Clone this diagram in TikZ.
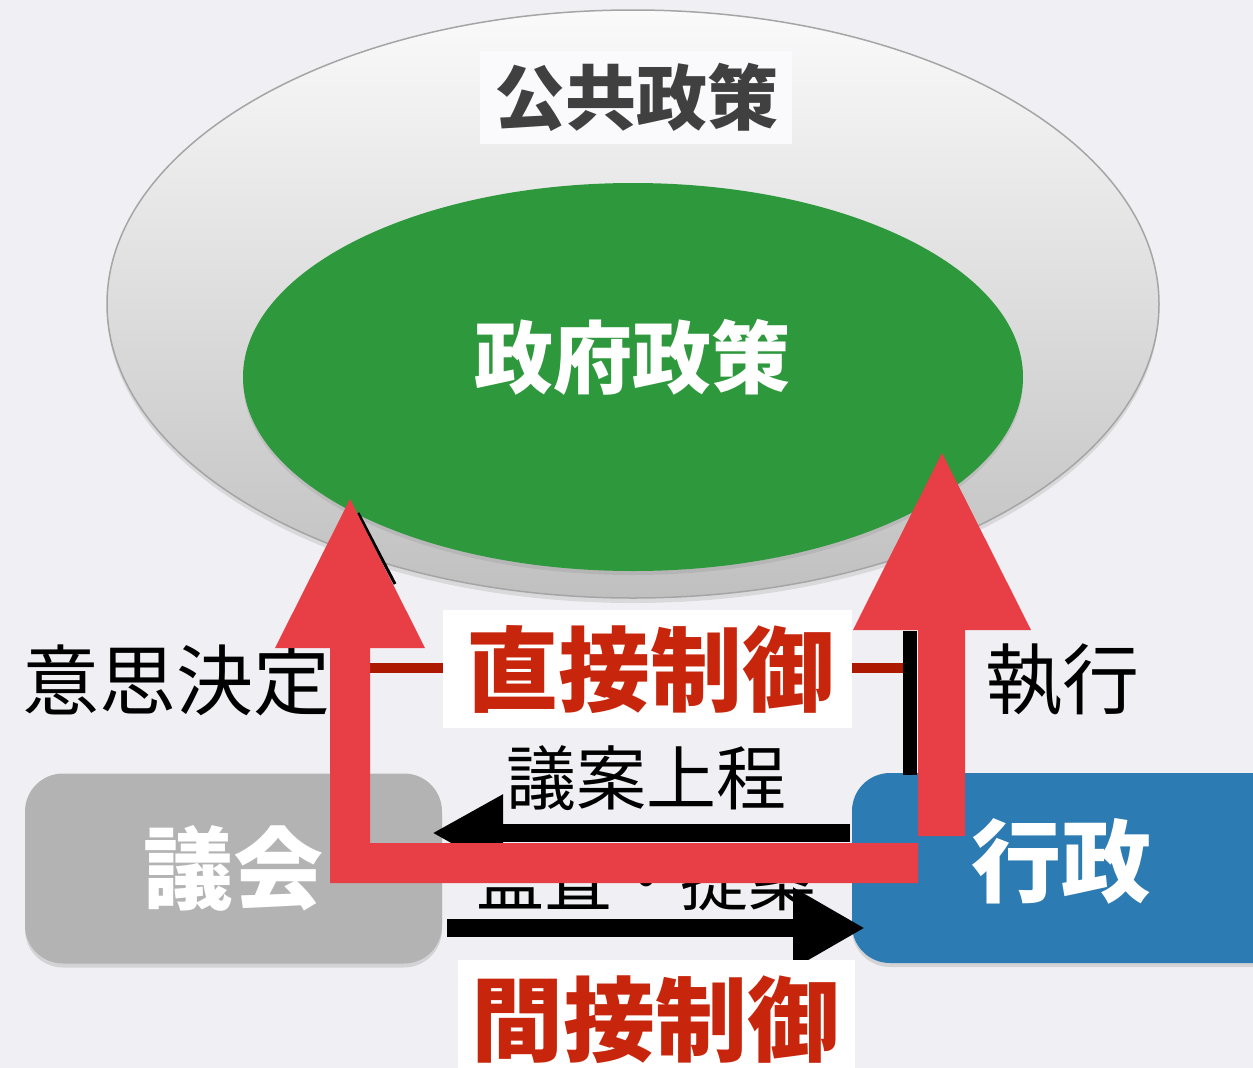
\documentclass[tikz,border=0pt]{standalone}
\usepackage{fontspec}
\newfontfamily\cjk{Noto Sans CJK JP}
\usetikzlibrary{shapes.geometric,arrows.meta,shadows}
\definecolor{bg}{RGB}{240,240,244}
\definecolor{ringtop}{RGB}{250,250,250}
\definecolor{ringbot}{RGB}{192,192,192}
\definecolor{ringline}{RGB}{165,165,165}
\definecolor{govgreen}{RGB}{46,152,60}
\definecolor{boxgray}{RGB}{179,179,179}
\definecolor{boxblue}{RGB}{44,123,178}
\definecolor{arrowred}{RGB}{232,62,69}
\definecolor{darkred}{RGB}{172,24,0}
\definecolor{textred}{RGB}{200,38,12}
\definecolor{titlegray}{RGB}{64,64,64}
\begin{document}
\begin{tikzpicture}[x=1pt,y=-1pt,
  plain/.style={inner sep=0pt, font={\cjk\fontsize{77pt}{80pt}\selectfont}, text=black},
  boldw/.style={inner sep=0pt, font={\cjk\bfseries\fontsize{#1}{#1}\selectfont}, text=white},
  redtitle/.style={inner sep=0pt, font={\cjk\bfseries\fontsize{92pt}{95pt}\selectfont}, text=textred},
  whitebox/.style={fill=white, draw=none, inner sep=0pt},
  actor/.style={rounded corners=38pt, inner sep=0pt, minimum height=190pt,
    drop shadow={opacity=0.25, shadow xshift=0pt, shadow yshift=-4pt}},
  blackarrow/.style={line width=18pt, draw=black},
  redshape/.style={fill=arrowred}]
\useasboundingbox (0,0) rectangle (1253,1068);
\clip (0,0) rectangle (1253,1068);
\fill[bg] (0,0) rectangle (1253,1068);

% ellipses
\node[ellipse, minimum width=1052pt, minimum height=588pt, inner sep=0pt,
  top color=ringtop, bottom color=ringbot, draw=ringline, line width=1.5pt,
  drop shadow={opacity=0.2, shadow xshift=0pt, shadow yshift=-5pt}] (public) at (633,304) {};
\node[ellipse, minimum width=780pt, minimum height=388pt, inner sep=0pt,
  fill=govgreen, drop shadow={opacity=0.2, shadow xshift=0pt, shadow yshift=-4pt}] (gov) at (633,377) {};
\node[boldw=79pt] (govtxt) at (632,357) {政府政策};
\node[fill=white!70!bg, minimum width=312pt, minimum height=93pt, inner sep=0pt] (pubbox) at (636,97) {};
\node[inner sep=0pt, font={\cjk\bfseries\fontsize{71pt}{75pt}\selectfont}, text=titlegray] (pubtxt) at (636,97) {公共政策};

% thin black remnant line
\coordinate (d1) at (358,513);
\coordinate (d2) at (395,584);
\draw[line width=3pt] (d1) -- (d2);

% side labels
\node[plain] (ishi) at (177,680) {意思決定};
\node[plain] (shikko) at (1062,680) {執行};

% actors
\node[actor, fill=boxgray, minimum width=417pt] (gikai) at (233.5,868.5) {};
\node[boldw=90pt] at (gikai.center) {議会};
\node[actor, fill=boxblue, minimum width=448pt] (gyosei) at (1076,868) {};
\node[boldw=90pt] at (1061,861) {行政};

% black vertical line and dark red segments
\coordinate (v1) at (910,631);
\coordinate (v2) at (910,775);
\draw[line width=14pt] (v1) -- (v2);
\coordinate (r1) at (350,668);
\coordinate (r2) at (443,668);
\coordinate (r3) at (852,668);
\coordinate (r4) at (903,668);
\draw[darkred, line width=10pt] (r1) -- (r2);
\draw[darkred, line width=10pt] (r3) -- (r4);

% direct control box
\node[whitebox, minimum width=409pt, minimum height=118pt] (dbox) at (647.5,669) {};
\node[redtitle] (dtxt) at (650,670) {直接制御};

% middle labels and arrows
\node[inner sep=0pt, font={\cjk\fontsize{70pt}{74pt}\selectfont}] (giantxt) at (646,778) {議案上程};
\coordinate (a1) at (850,833);
\coordinate (a2) at (432,833);
\draw[blackarrow, -{Triangle[length=71pt, width=72pt]}] (a1) -- (a2);
\node[inner sep=0pt, font={\cjk\fontsize{68pt}{72pt}\selectfont}] (kansatxt) at (646,880) {監査・提案};
\coordinate (b1) at (447,928);
\coordinate (b2) at (865,928);
\draw[blackarrow, -{Triangle[length=72pt, width=76pt]}] (b1) -- (b2);

% red L-shaped arrows
\fill[redshape] (330,883) -- (330,648) -- (275,648) -- (350,499) -- (425,648) -- (370,648)
  -- (370,843) -- (918,843) -- (918,883) -- cycle;
\fill[redshape] (918,836) -- (918,630) -- (853,630) -- (942,453) -- (1031,630) -- (965,630)
  -- (965,836) -- cycle;

% indirect control box
\node[whitebox, minimum width=397pt, minimum height=120pt] (ibox) at (656.5,1020) {};
\node[redtitle] (itxt) at (655,1020) {間接制御};
\end{tikzpicture}
\end{document}
